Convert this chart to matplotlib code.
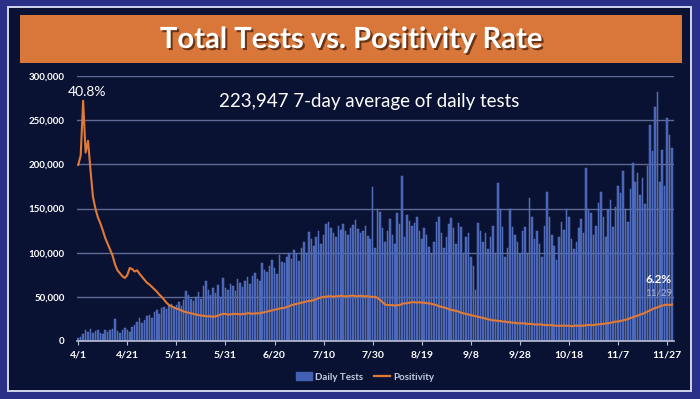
import matplotlib
matplotlib.use('Agg')
import matplotlib.pyplot as plt
import matplotlib.patches as mpatches
import matplotlib.patheffects as pe
from matplotlib.lines import Line2D
from matplotlib.ticker import FuncFormatter

# daily tests, thousands, starting 4/1 (one row per week)
tests_k = [
    3, 5, 8, 12, 10, 14, 9,
    11, 12, 9, 8, 13, 10, 12,
    14, 25, 11, 9, 12, 15, 13,
    10, 16, 18, 22, 26, 20, 24,
    28, 30, 26, 33, 35, 31, 37,
    38, 36, 40, 42, 39, 41, 44,
    40, 46, 57, 52, 48, 45, 50,
    55, 47, 62, 68, 58, 52, 60,
    54, 63, 50, 71, 60, 58, 64,
    62, 57, 70, 66, 61, 68, 72,
    65, 74, 77, 70, 68, 88, 80,
    78, 85, 92, 83, 76, 97, 90,
    88, 95, 100, 93, 103, 98, 91,
    105, 112, 100, 123, 115, 108, 118,
    125, 110, 120, 132, 135, 128, 122,
    118, 130, 126, 133, 124, 120, 128,
    131, 137, 127, 122, 125, 130, 119,
    115, 174, 105, 150, 146, 128, 112,
    125, 138, 120, 110, 145, 132, 187,
    118, 143, 136, 130, 134, 140, 125,
    115, 128, 120, 106, 98, 112, 135,
    140, 122, 105, 118, 132, 139, 128,
    110, 134, 129, 100, 118, 122, 95,
    85, 58, 134, 125, 112, 122, 104,
    118, 130, 100, 179, 150, 129, 95,
    105, 150, 129, 120, 112, 98, 125,
    129, 100, 162, 140, 116, 125, 110,
    95, 130, 169, 140, 120, 108, 92,
    118, 135, 126, 150, 140, 115, 104,
    112, 128, 138, 122, 196, 150, 145,
    120, 130, 156, 169, 140, 118, 148,
    160, 129, 152, 176, 168, 193, 150,
    135, 172, 201, 180, 190, 165, 185,
    155, 198, 245, 215, 265, 282, 180,
    216, 175, 253, 233, 218,
]

# positivity rate, percent, same days
positivity = [
    29.9, 31.5, 40.8, 32.0, 34.0, 29.0, 24.5, 22.5, 21.0, 20.0,
    18.8, 17.5, 16.5, 15.5, 14.5, 13.0, 12.0, 11.5, 11.0, 10.7,
    11.2, 12.4, 12.2, 11.8, 12.0, 11.4, 10.9, 10.4, 9.9, 9.6,
    9.2, 8.8, 8.4, 7.9, 7.5, 7.0, 6.5, 6.1, 5.9, 5.7,
    5.5, 5.4, 5.2, 5.0, 4.9, 4.8, 4.7, 4.6, 4.5, 4.4,
    4.3, 4.3, 4.2, 4.2, 4.2, 4.1, 4.2, 4.3, 4.5, 4.6,
    4.6, 4.5, 4.5, 4.6, 4.6, 4.6, 4.5, 4.6, 4.6, 4.7,
    4.7, 4.6, 4.7, 4.7, 4.7, 4.8, 4.9, 5.0, 5.1, 5.2,
    5.3, 5.4, 5.5, 5.6, 5.6, 5.8, 5.9, 6.1, 6.2, 6.3,
    6.4, 6.5, 6.6, 6.7, 6.8, 6.8, 7.0, 7.1, 7.3, 7.4,
    7.5, 7.5, 7.6, 7.6, 7.5, 7.6, 7.6, 7.7, 7.6, 7.6,
    7.6, 7.7, 7.7, 7.6, 7.6, 7.7, 7.6, 7.6, 7.6, 7.5,
    7.5, 7.5, 7.3, 7.0, 6.6, 6.2, 6.1, 6.1, 6.1, 6.0,
    6.1, 6.1, 6.3, 6.4, 6.4, 6.5, 6.6, 6.6, 6.5, 6.6,
    6.5, 6.5, 6.4, 6.4, 6.3, 6.2, 6.1, 5.9, 5.8, 5.7,
    5.6, 5.4, 5.3, 5.2, 5.1, 5.0, 4.8, 4.7, 4.6, 4.5,
    4.4, 4.3, 4.2, 4.1, 4.0, 3.9, 3.8, 3.7, 3.6, 3.5,
    3.5, 3.4, 3.4, 3.3, 3.3, 3.2, 3.2, 3.1, 3.1, 3.0,
    3.0, 3.0, 3.0, 2.9, 2.9, 2.9, 2.8, 2.8, 2.8, 2.8,
    2.7, 2.7, 2.7, 2.7, 2.6, 2.6, 2.6, 2.6, 2.6, 2.6,
    2.6, 2.5, 2.6, 2.6, 2.6, 2.6, 2.6, 2.7, 2.7, 2.7,
    2.7, 2.8, 2.8, 2.9, 2.9, 3.0, 3.0, 3.1, 3.2, 3.3,
    3.3, 3.4, 3.5, 3.6, 3.7, 3.9, 4.0, 4.2, 4.3, 4.5,
    4.6, 4.8, 5.0, 5.2, 5.4, 5.6, 5.7, 5.9, 6.0, 6.1,
    6.2, 6.1, 6.2,
]

tick_labels = ['4/1', '4/21', '5/11', '5/31', '6/20', '7/10', '7/30',
               '8/19', '9/8', '9/28', '10/18', '11/7', '11/27']
title = 'Total Tests vs. Positivity Rate'
note = '223,947 7-day average of daily tests'

W, H = 700, 399
days = list(range(len(tests_k)))
tests = [v * 1000 for v in tests_k]

plt.rcParams['font.family'] = ['Lato', 'DejaVu Sans']

fig = plt.figure(figsize=(7, 3.99), dpi=100, facecolor='#2a3087')


def box(x0, y0, x1, y1, **kw):
    # pixel box (top-left origin) -> figure rectangle
    r = mpatches.Rectangle((x0 / W, 1 - y1 / H), (x1 - x0) / W, (y1 - y0) / H,
                           transform=fig.transFigure, **kw)
    fig.add_artist(r)
    return r


box(8, 7, 691, 391, facecolor='#0a1234', edgecolor='#d0d6ea', lw=1.4, zorder=0)
box(20, 15, 682, 63, facecolor='#d9773a', edgecolor='none', zorder=1)

fig.text(351 / W, 1 - 40 / H, title, ha='center', va='center', color='white',
         fontsize=21, fontweight='bold', zorder=3,
         path_effects=[pe.withSimplePatchShadow(offset=(1.5, -1.5),
                                                shadow_rgbFace='#3a1a08', alpha=0.7)])

ax = fig.add_axes([77 / W, 1 - 341 / H, 597 / W, 265 / H])
ax.set_facecolor('none')
ax.bar(days, tests, width=0.62, color='#4260b4', edgecolor='#6681c8', lw=0.3, zorder=2)
ax.set_ylim(0, 300000)
ax.set_xlim(-0.5, 242.8)
ax.set_yticks(range(0, 300001, 50000))
ax.yaxis.set_major_formatter(FuncFormatter(lambda v, p: f'{int(v):,}'))
ax.grid(axis='y', color='#5d6a94', lw=1.0, zorder=1)
ax.set_axisbelow(True)
ax.set_xticks(range(0, 241, 20))
ax.set_xticklabels(tick_labels)
for s in ['top', 'right', 'left']:
    ax.spines[s].set_visible(False)
ax.spines['bottom'].set_color('#b8bfd6')
ax.spines['bottom'].set_linewidth(1.2)
ax.tick_params(axis='y', length=0, pad=9, labelsize=7, labelcolor='white')
ax.tick_params(axis='x', length=3, color='#b8bfd6', pad=4, labelsize=7.5, labelcolor='white')
for lab in ax.get_xticklabels() + ax.get_yticklabels():
    lab.set_fontweight('bold')

ax2 = ax.twinx()
ax2.plot(days, positivity, color='#e07a36', lw=1.5, zorder=4)
ax2.set_ylim(0, 45)
ax2.axis('off')

ax.text(0.49, 0.905, note, transform=ax.transAxes, ha='center', va='center',
        color='white', fontsize=13.5)
ax2.annotate('40.8%', (2, 40.8), xytext=(3, 2), textcoords='offset points',
             ha='center', va='bottom', color='white', fontsize=10)
ax2.annotate('6.2%', (242, 6.2), xytext=(0, 14), textcoords='offset points',
             ha='right', va='bottom', color='white', fontsize=8.5, fontweight='bold')
ax2.annotate('11/29', (242, 6.2), xytext=(0, 5), textcoords='offset points',
             ha='right', va='bottom', color='#aeb6cf', fontsize=7)

handles = [mpatches.Patch(color='#4260b4'), Line2D([], [], color='#e07a36', lw=1.6)]
fig.legend(handles, ['Daily Tests', 'Positivity'], loc='center',
           bbox_to_anchor=(365 / W, 1 - 377 / H), ncol=2, frameon=False,
           labelcolor='#c4cadf', handlelength=1.6, handleheight=0.9,
           columnspacing=1.2, handletextpad=0.3, prop={'weight': 'bold', 'size': 7})

fig.savefig('out.png', dpi=100, facecolor=fig.get_facecolor())
